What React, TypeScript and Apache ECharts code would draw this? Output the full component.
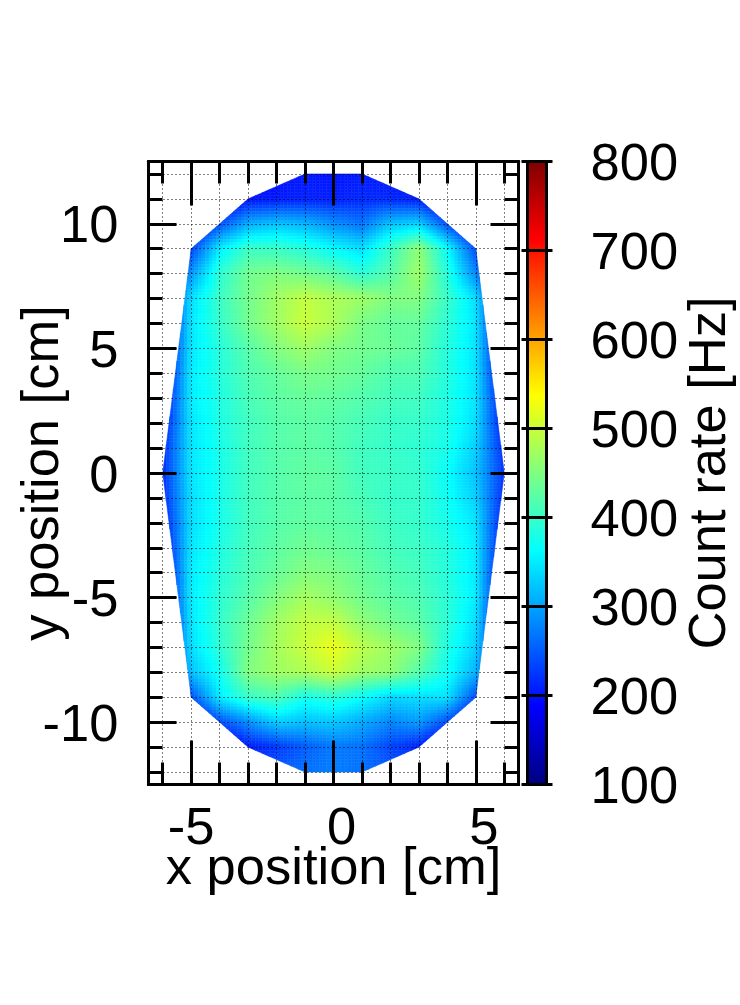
import React, { useEffect, useRef } from "react";
import * as echarts from "echarts";

const xPositions = [-6, -5, -4, -3, -2, -1, 0, 1, 2, 3, 4, 5, 6];
const yPositions = [12, 11, 10, 9, 8, 7, 6, 5, 4, 3, 2, 1, 0, -1, -2, -3, -4, -5, -6, -7, -8, -9, -10, -11, -12];
const countRates = [
  [190, 190, 190, 190, 195, 205, 200, 205, 200, 190, 190, 190, 190],
  [150, 150, 150, 200, 205, 210, 208, 215, 215, 205, 150, 150, 150],
  [150, 160, 240, 305, 320, 310, 285, 265, 320, 330, 240, 160, 150],
  [150, 230, 350, 400, 400, 385, 360, 340, 400, 460, 365, 240, 150],
  [150, 290, 390, 440, 450, 440, 425, 390, 420, 470, 385, 280, 150],
  [165, 340, 400, 440, 470, 495, 480, 470, 450, 450, 400, 340, 165],
  [165, 345, 395, 440, 470, 500, 480, 445, 430, 430, 390, 345, 165],
  [170, 345, 385, 420, 450, 470, 450, 440, 435, 425, 385, 345, 170],
  [175, 350, 385, 415, 430, 445, 440, 430, 415, 415, 385, 345, 175],
  [190, 350, 380, 410, 425, 432, 428, 418, 408, 405, 380, 345, 190],
  [200, 345, 380, 405, 420, 425, 420, 410, 400, 398, 380, 340, 200],
  [215, 345, 375, 405, 420, 425, 420, 405, 398, 392, 375, 330, 215],
  [215, 345, 375, 405, 420, 428, 425, 405, 402, 397, 365, 320, 225],
  [215, 340, 375, 405, 420, 425, 424, 410, 398, 397, 370, 330, 215],
  [200, 340, 375, 405, 420, 428, 424, 418, 403, 397, 375, 345, 200],
  [190, 345, 380, 408, 425, 438, 432, 423, 408, 402, 385, 350, 190],
  [175, 350, 385, 412, 432, 452, 447, 432, 417, 407, 385, 350, 175],
  [170, 350, 390, 420, 450, 475, 460, 440, 425, 415, 390, 350, 170],
  [165, 345, 395, 435, 470, 495, 495, 460, 440, 425, 390, 340, 165],
  [165, 340, 390, 440, 475, 500, 525, 490, 470, 450, 380, 330, 165],
  [150, 320, 370, 450, 470, 480, 500, 470, 460, 420, 370, 310, 150],
  [150, 240, 350, 400, 415, 375, 390, 365, 335, 340, 345, 240, 150],
  [150, 160, 240, 285, 330, 320, 325, 305, 280, 295, 240, 160, 150],
  [150, 150, 150, 205, 225, 250, 270, 265, 235, 210, 150, 150, 150],
  [230, 230, 230, 230, 250, 265, 275, 265, 250, 230, 230, 230, 230],
];
const outline = [
  [-1, 12], [1, 12], [3, 11], [5, 9], [6, 0], [5, -9], [3, -11], [1, -12],
  [-1, -12], [-3, -11], [-5, -9], [-6, 0], [-5, 9], [-3, 11],
];
const xTicks = [-6, -5, -4, -3, -2, -1, 0, 1, 2, 3, 4, 5, 6];
const yTicks = [-12, -11, -10, -9, -8, -7, -6, -5, -4, -3, -2, -1, 0, 1, 2, 3, 4, 5, 6, 7, 8, 9, 10, 11, 12];
const xMajor = [-5, 0, 5];
const xLabelsNegative = [-5];
const xLabelsOther = [0, 5];
const yMajor = [-10, -5, 0, 5, 10];
const jetStops = [
  [0, "#00007f"], [0.125, "#0000ff"], [0.375, "#00ffff"],
  [0.625, "#ffff00"], [0.875, "#ff0000"], [1, "#7f0000"],
] as [number, string][];
const rateMin = 100;
const rateMax = 800;
const FONT = "Liberation Sans";
const SUB = 8;

function hex(c: string) {
  return [1, 3, 5].map((i) => parseInt(c.slice(i, i + 2), 16));
}
function jet(v: number) {
  const t = Math.min(1, Math.max(0, (v - rateMin) / (rateMax - rateMin)));
  for (let i = 1; i < jetStops.length; i++) {
    if (t <= jetStops[i][0]) {
      const [a, ca] = jetStops[i - 1];
      const [b, cb] = jetStops[i];
      const k = (t - a) / (b - a);
      const A = hex(ca);
      const B = hex(cb);
      return `rgb(${A.map((p, j) => Math.round(p + (B[j] - p) * k)).join(",")})`;
    }
  }
  return "#7f0000";
}
function clipToOutline(poly: number[][]) {
  let out = poly;
  for (let i = 0; i < outline.length && out.length; i++) {
    const [ax, ay] = outline[i];
    const [bx, by] = outline[(i + 1) % outline.length];
    const side = (p: number[]) => (bx - ax) * (p[1] - ay) - (by - ay) * (p[0] - ax);
    const next: number[][] = [];
    for (let j = 0; j < out.length; j++) {
      const p = out[j];
      const q = out[(j + 1) % out.length];
      const sp = side(p);
      const sq = side(q);
      if (sp <= 0) next.push(p);
      if (sp < 0 !== sq < 0 && sp !== sq) {
        const k = sp / (sp - sq);
        next.push([p[0] + (q[0] - p[0]) * k, p[1] + (q[1] - p[1]) * k]);
      }
    }
    out = next;
  }
  return out;
}

const cells: number[][] = [];
for (let r = 0; r < yPositions.length - 1; r++) {
  for (let c = 0; c < xPositions.length - 1; c++) {
    cells.push([r, c]);
  }
}

function renderCell(params: any, api: any) {
  const [r, c] = cells[params.dataIndex];
  const x0 = xPositions[c];
  const x1 = xPositions[c + 1];
  const y0 = yPositions[r];
  const y1 = yPositions[r + 1];
  const v00 = countRates[r][c];
  const v10 = countRates[r][c + 1];
  const v01 = countRates[r + 1][c];
  const v11 = countRates[r + 1][c + 1];
  const children: any[] = [];
  for (let i = 0; i < SUB; i++) {
    for (let j = 0; j < SUB; j++) {
      const ax = x0 + ((x1 - x0) * i) / SUB;
      const bx = x0 + ((x1 - x0) * (i + 1)) / SUB;
      const ay = y0 + ((y1 - y0) * j) / SUB;
      const by = y0 + ((y1 - y0) * (j + 1)) / SUB;
      const poly = clipToOutline([[ax, ay], [bx, ay], [bx, by], [ax, by]]);
      if (poly.length < 3) continue;
      const u = (i + 0.5) / SUB;
      const w = (j + 0.5) / SUB;
      const v = v00 * (1 - u) * (1 - w) + v10 * u * (1 - w) + v01 * (1 - u) * w + v11 * u * w;
      const color = jet(v);
      children.push({
        type: "polygon",
        shape: { points: poly.map((p) => api.coord(p)) },
        style: { fill: color, stroke: color, lineWidth: 0.5 },
      });
    }
  }
  return { type: "group", children };
}

const line = { lineStyle: { color: "#000", width: 3 } };
const label = { color: "#000", fontFamily: FONT, fontSize: 52.5 };
const dotted = { show: true, lineStyle: { color: "#000", width: 1, type: [1, 3], dashOffset: 0.5 } };

export default function App() {
  const ref = useRef<HTMLDivElement>(null);
  useEffect(() => {
    const chart = echarts.init(ref.current!, null, { renderer: "svg" });
    const baseX = { type: "value", gridIndex: 0, min: -6.5, max: 6.5, z: 5, splitLine: { show: false }, axisLabel: { show: false } };
    const baseY = { type: "value", gridIndex: 0, min: -12.5, max: 12.5, z: 5, splitLine: { show: false }, axisLabel: { show: false } };
    const axisLine = { show: true, onZero: false, ...line };
    chart.setOption({
      animation: false,
      backgroundColor: "#fff",
      grid: [
        { left: 148.5, top: 161.5, width: 370, height: 623, outerBoundsMode: "none" },
        { left: 527.5, top: 161.5, width: 19, height: 623, outerBoundsMode: "none" },
      ],
      xAxis: [
        {
          ...baseX,
          position: "bottom",
          axisLine,
          axisTick: { show: true, inside: true, length: 22, customValues: xTicks, ...line },
          splitLine: dotted,
          axisLabel: { show: true, customValues: xLabelsOther, margin: 14, padding: [0, 0, 0, 16], ...label },
          name: "x position [cm]",
          nameLocation: "middle",
          nameGap: 54,
          nameMoveOverlap: false,
          nameTextStyle: label,
        },
        { ...baseX, position: "top", axisLine, axisTick: { show: true, inside: true, length: 22, customValues: xTicks, ...line } },
        {
          ...baseX,
          position: "bottom",
          axisLine,
          axisTick: { show: true, inside: true, length: 44, customValues: xMajor, ...line },
          axisLabel: { show: true, customValues: xLabelsNegative, margin: 14, ...label },
        },
        { ...baseX, position: "top", axisLine, axisTick: { show: true, inside: true, length: 44, customValues: xMajor, ...line } },
        { type: "value", gridIndex: 1, min: 0, max: 1, show: false },
      ],
      yAxis: [
        {
          ...baseY,
          position: "left",
          axisLine,
          axisTick: { show: true, inside: true, length: 14, customValues: yTicks, ...line },
          splitLine: dotted,
          axisLabel: { show: true, customValues: yMajor, margin: 30, padding: [4, 0, 0, 0], ...label },
          name: "y position [cm]",
          nameLocation: "middle",
          nameRotate: 90,
          nameGap: 83,
          nameMoveOverlap: false,
          nameTextStyle: label,
        },
        { ...baseY, position: "right", axisLine, axisTick: { show: true, inside: true, length: 14, customValues: yTicks, ...line } },
        { ...baseY, position: "left", axisLine, axisTick: { show: true, inside: true, length: 28, customValues: yMajor, ...line } },
        { ...baseY, position: "right", axisLine, axisTick: { show: true, inside: true, length: 28, customValues: yMajor, ...line } },
        {
          type: "value",
          gridIndex: 1,
          position: "left",
          min: rateMin,
          max: rateMax,
          interval: 100,
          z: 5,
          axisLine,
          axisTick: { show: true, length: 6, ...line },
          axisLabel: { show: false },
          splitLine: { show: true, lineStyle: { color: "#000", width: 3 } },
        },
        {
          type: "value",
          gridIndex: 1,
          position: "right",
          min: rateMin,
          max: rateMax,
          interval: 100,
          z: 5,
          axisLine,
          axisTick: { show: true, length: 6, ...line },
          axisLabel: { show: true, margin: 44, padding: [2, 0, 0, 0], ...label },
          splitLine: { show: false },
          name: "Count rate [Hz]",
          nameLocation: "middle",
          nameRotate: 90,
          nameGap: 133,
          nameMoveOverlap: false,
          nameTextStyle: label,
        },
      ],
      series: [
        {
          type: "custom",
          coordinateSystem: "cartesian2d",
          xAxisIndex: 0,
          yAxisIndex: 0,
          clip: false,
          silent: true,
          data: cells,
          renderItem: renderCell,
        },
        {
          type: "custom",
          coordinateSystem: "cartesian2d",
          xAxisIndex: 4,
          yAxisIndex: 4,
          silent: true,
          data: [[0, rateMin, 1, rateMax]],
          renderItem: (_: any, api: any) => {
            const a = api.coord([api.value(0), api.value(3)]);
            const b = api.coord([api.value(2), api.value(1)]);
            return {
              type: "rect",
              shape: { x: a[0], y: a[1], width: b[0] - a[0], height: b[1] - a[1] },
              style: {
                fill: new echarts.graphic.LinearGradient(
                  0, 1, 0, 0,
                  jetStops.map(([offset, color]) => ({ offset, color })),
                ),
              },
            };
          },
        },
      ],
    });
    return () => chart.dispose();
  }, []);
  return <div ref={ref} style={{ position: "absolute", left: 0, top: 0, width: 740, height: 1005 }} />;
}
